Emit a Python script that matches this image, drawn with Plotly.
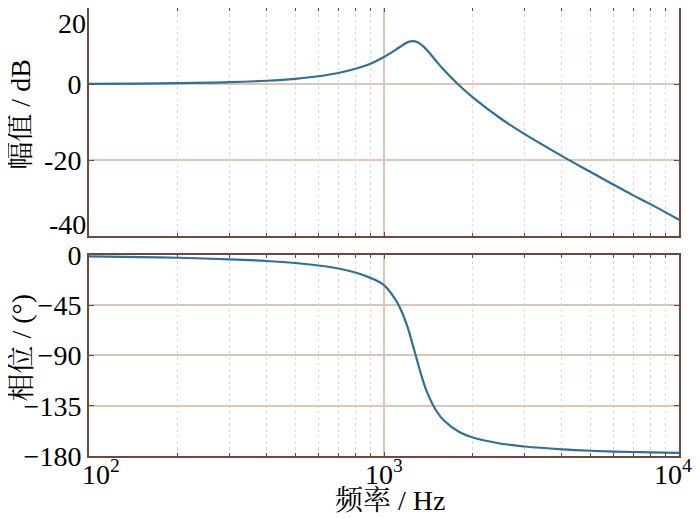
import plotly.graph_objects as go

# Frequencies (Hz)
freq = [100, 150, 200, 300, 400, 500, 600, 700, 800, 900, 1000, 1100, 1150, 1200,
        1250, 1300, 1350, 1400, 1500, 1600, 1800, 2000, 2500, 3000, 4000, 5000,
        6000, 7000, 8000, 10000]
# Magnitude (dB)
mag_db = [0.05, 0.12, 0.21, 0.47, 0.86, 1.37, 2.05, 2.9, 4.0, 5.35, 7.1, 9.1, 10.1,
          10.95, 11.3, 11.0, 10.1, 8.9, 6.1, 3.6, -0.4, -3.5, -9.2, -13.2, -18.9,
          -23.1, -26.5, -29.3, -31.6, -35.7]
# Phase (deg)
phase_deg = [-1.2, -1.9, -2.5, -3.9, -5.4, -7.2, -9.4, -12.1, -15.7, -20.5, -27.0,
             -41.0, -51.0, -64.0, -80.0, -96.0, -111.0, -123.0, -139.0, -148.5,
             -158.5, -163.5, -169.0, -171.5, -174.0, -175.3, -176.0, -176.4,
             -176.7, -177.2]

mag_ticks = [20, 0, -20, -40]
phase_ticks = [0, -45, -90, -135, -180]
x_tick_exp = [2, 3, 4]

mag_title = "幅值 / dB"
phase_title = "相位 / (°)"
x_title = "频率 / Hz"

LINE = "#2f6f98"
FRAME = "#6b4a3a"
GRID = "#dcc6b8"
MINOR = "#ecd4d4"
SERIF = "Liberation Serif, Times New Roman, serif"
CJK = "Liberation Serif, Noto Serif CJK SC, Noto Sans CJK SC, serif"
FS = 28

fig = go.Figure()
fig.add_trace(go.Scatter(x=freq, y=mag_db, mode="lines", line=dict(color=LINE, width=2.2, shape="spline"),
                         xaxis="x", yaxis="y", showlegend=False))
fig.add_trace(go.Scatter(x=freq, y=phase_deg, mode="lines", line=dict(color=LINE, width=2.2, shape="spline"),
                         xaxis="x2", yaxis="y2", showlegend=False))

xcommon = dict(type="log", range=[2, 4], dtick=1, showticklabels=False, automargin=False,
               showline=True, mirror="ticks", linecolor=FRAME, linewidth=2,
               ticks="inside", ticklen=4, tickcolor=FRAME,
               showgrid=True, gridcolor=GRID, gridwidth=1.5, zeroline=False,
               minor=dict(dtick="D1", ticks="inside", ticklen=3, tickcolor=FRAME,
                          showgrid=True, gridcolor=MINOR, griddash="dot", gridwidth=1))
ycommon = dict(showline=True, mirror="ticks", linecolor=FRAME, linewidth=2, automargin=False,
               ticks="inside", ticklen=5, tickcolor=FRAME, ticklabeloverflow="allow",
               showgrid=True, gridcolor=GRID, gridwidth=1.5, zeroline=False,
               tickfont=dict(family=SERIF, size=FS, color="black"), ticklabelstandoff=0)

fig.update_layout(
    width=700, height=519,
    margin=dict(l=81, r=29, t=0, b=71, autoexpand=False),
    paper_bgcolor="white", plot_bgcolor="white",
    xaxis=dict(**xcommon, domain=[0, 1], anchor="y"),
    xaxis2=dict(**xcommon, domain=[0, 1], anchor="y2", matches="x"),
    yaxis=dict(**ycommon, domain=[0.491, 1], range=[-40, 20], tickvals=mag_ticks,
               ticktext=["", "0", "-20", ""], anchor="x"),
    yaxis2=dict(**ycommon, domain=[0, 0.4487], range=[-180, 0], tickvals=phase_ticks, anchor="x2"),
)

# end labels of the magnitude axis, nudged inside the figure like the reference
fig.add_annotation(x=0, y=mag_ticks[0], xref="paper", yref="y", text=str(mag_ticks[0]),
                   showarrow=False, xanchor="right", yanchor="top", xshift=-1, yshift=2,
                   font=dict(family=SERIF, size=FS, color="black"))
fig.add_annotation(x=0, y=mag_ticks[-1], xref="paper", yref="y", text=str(mag_ticks[-1]),
                   showarrow=False, xanchor="right", yanchor="bottom", xshift=-1, yshift=-6,
                   font=dict(family=SERIF, size=FS, color="black"))

for e in x_tick_exp:
    shift = {2: 12, 3: 0, 4: -6}[e]
    fig.add_annotation(x=e, y=-0.036, xref="x2", yref="paper", text=f"10<sup>{e}</sup>",
                       showarrow=False, xshift=shift, xanchor="center", yanchor="middle",
                       font=dict(family=SERIF, size=FS, color="black"))

fig.add_annotation(x=-0.116, y=0.761, xref="paper", yref="paper", text=mag_title, textangle=-90,
                   showarrow=False, xanchor="center", yanchor="middle",
                   font=dict(family=CJK, size=FS, color="black"))
fig.add_annotation(x=-0.116, y=0.241, xref="paper", yref="paper", text=phase_title, textangle=-90,
                   showarrow=False, xanchor="center", yanchor="middle",
                   font=dict(family=CJK, size=FS, color="black"))
fig.add_annotation(x=0.51, y=-0.1, xref="paper", yref="paper", text=x_title,
                   showarrow=False, xanchor="center", yanchor="middle",
                   font=dict(family=CJK, size=FS, color="black"))

fig.write_html("out.html")
